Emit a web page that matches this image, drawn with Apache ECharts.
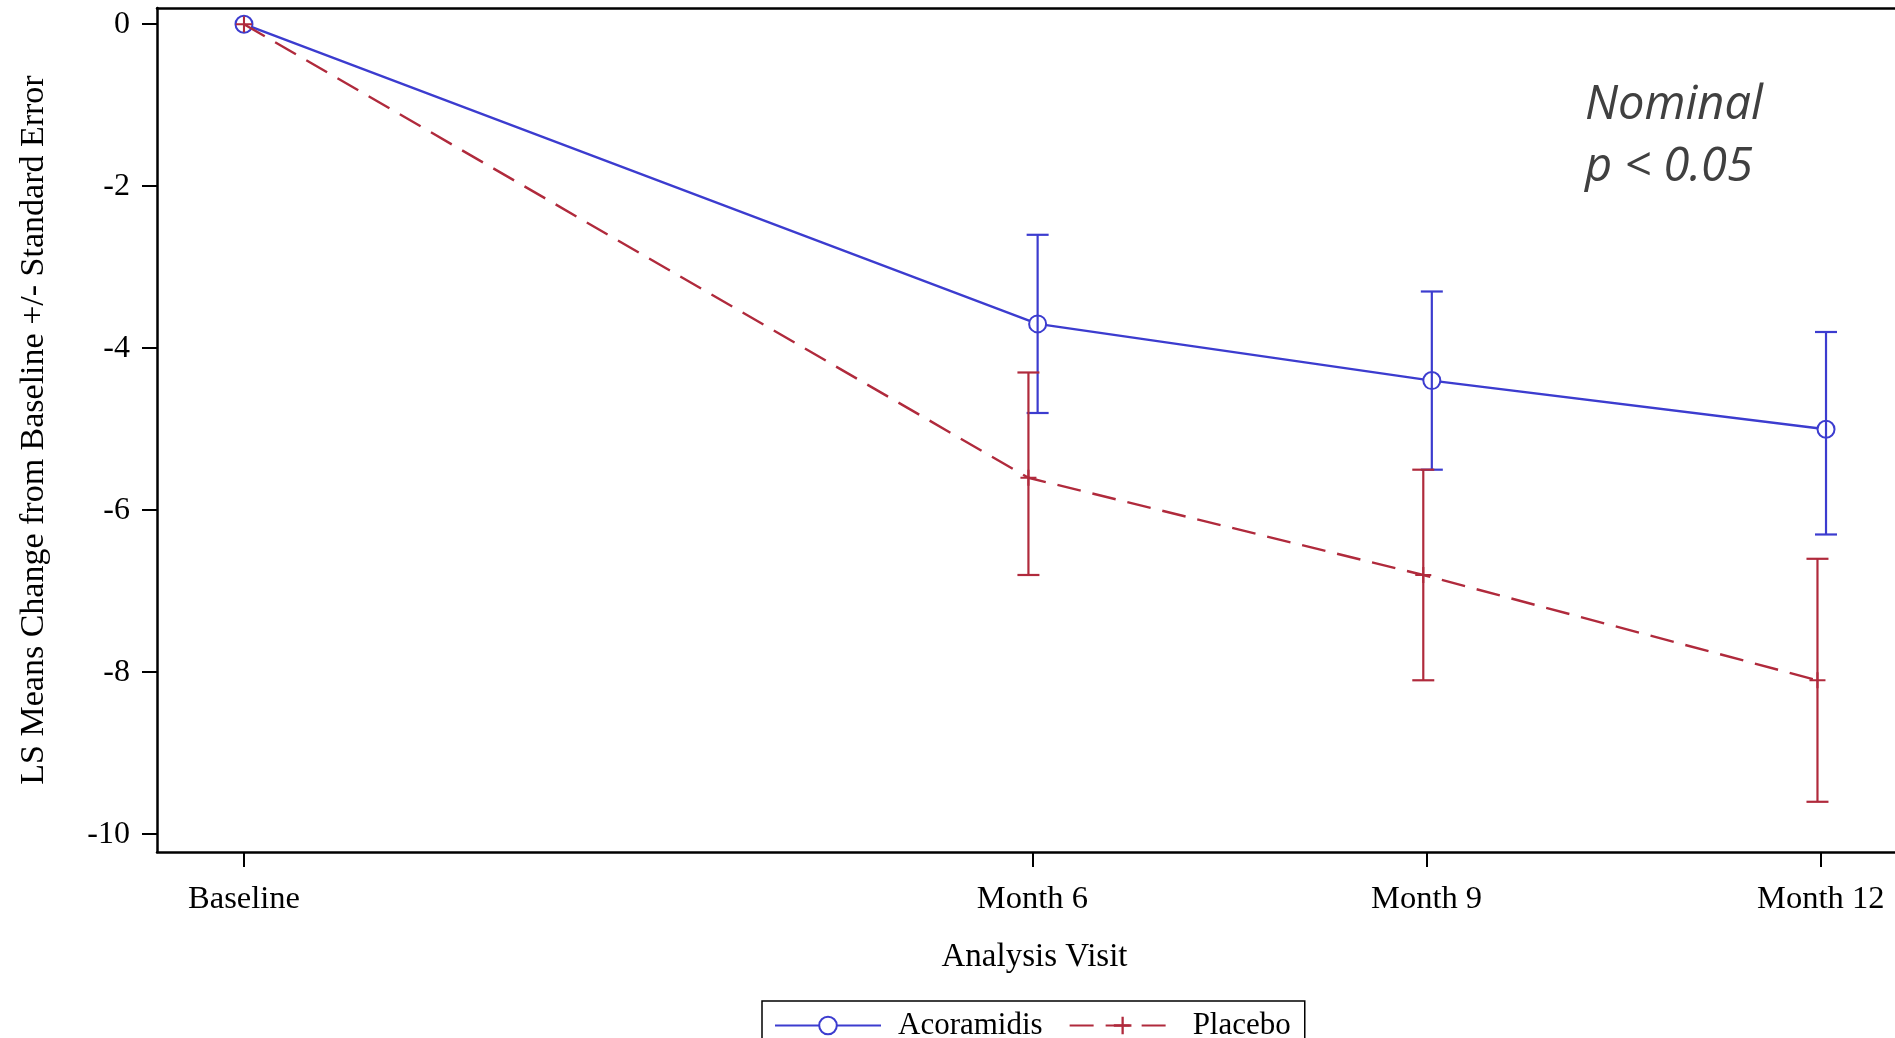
<!DOCTYPE html>
<html>
<head>
<meta charset="utf-8">
<script src="https://cdn.jsdelivr.net/npm/echarts@6/dist/echarts.min.js"></script>
<style>
html,body{margin:0;padding:0;background:#fff;}
#chart{width:1895px;height:1038px;}
</style>
</head>
<body>
<div id="chart"></div>
<script>
// ---- data ----
const visitMonths = [0, 6, 9, 12];
const tickLabels = ['Baseline', 'Month 6', 'Month 9', 'Month 12'];
const yTickValues = [0, -2, -4, -6, -8, -10];

const acoX = [0, 6.04, 9.04, 12.04];
const acoMean = [0, -3.7, -4.4, -5.0];
const acoUpper = [0, -2.6, -3.3, -3.8];
const acoLower = [0, -4.8, -5.5, -6.3];

const placeboX = [0, 5.97, 8.975, 11.975];
const placeboMean = [0, -5.6, -6.8, -8.1];
const placeboUpper = [0, -4.3, -5.5, -6.6];
const placeboLower = [0, -6.8, -8.1, -9.6];

const annotation = 'Nominal\np < 0.05';

// ---- styling ----
const BLUE = '#3c3ccf';
const RED = '#b02a3c';
const SERIF = "'Liberation Serif','Times New Roman',serif";
const PLUS = 'path://M-1,-0.13L1,-0.13L1,0.13L-1,0.13Z M-0.13,-1L0.13,-1L0.13,1L-0.13,1Z';

function pts(xs, ys) { return xs.map((x, i) => [x, ys[i]]); }
function bars(xs, lo, hi) { return xs.map((x, i) => [x, lo[i], hi[i]]); }

function errRender(color) {
  return function (params, api) {
    const x = api.value(0), lo = api.value(1), hi = api.value(2);
    if (lo === hi) return null;
    const pLo = api.coord([x, lo]);
    const pHi = api.coord([x, hi]);
    const hw = 11;
    const st = { stroke: color, lineWidth: 2.2 };
    return {
      type: 'group',
      children: [
        { type: 'line', shape: { x1: pLo[0], y1: pLo[1], x2: pHi[0], y2: pHi[1] }, style: st },
        { type: 'line', shape: { x1: pHi[0] - hw, y1: pHi[1], x2: pHi[0] + hw, y2: pHi[1] }, style: st },
        { type: 'line', shape: { x1: pLo[0] - hw, y1: pLo[1], x2: pLo[0] + hw, y2: pLo[1] }, style: st }
      ]
    };
  };
}

const axisCommon = {
  splitLine: { show: false },
  axisLine: { show: true, onZero: false, lineStyle: { color: '#000', width: 2.5 } }
};

const chart = echarts.init(document.getElementById('chart'), null, { renderer: 'canvas' });
chart.setOption({
  backgroundColor: '#fff',
  animation: false,
  title: {
    text: annotation,
    left: 1580,
    top: 70,
    textStyle: {
      fontFamily: "'Open Sans',sans-serif",
      fontStyle: 'italic',
      fontWeight: 'normal',
      fontSize: 47,
      lineHeight: 62,
      color: '#404040'
    }
  },
  grid: { left: 157, top: 8, right: 0, bottom: 186 },
  legend: {
    data: ['Acoramidis', 'Placebo'],
    left: 762,
    top: 1001,
    orient: 'horizontal',
    padding: [9, 14, 9, 12],
    itemWidth: 106,
    itemHeight: 22,
    itemGap: 26,
    borderColor: '#000',
    borderWidth: 1.5,
    selectedMode: false,
    textStyle: { fontFamily: SERIF, fontSize: 31, color: '#000', padding: [0, 0, 0, 12] }
  },
  xAxis: [
    Object.assign({}, axisCommon, {
      type: 'value',
      position: 'bottom',
      min: -0.662,
      max: 12.565,
      name: 'Analysis Visit',
      nameLocation: 'middle',
      nameGap: 89,
      nameTextStyle: { fontFamily: SERIF, fontSize: 33, color: '#000', padding: [0, 0, 0, 17] },
      axisTick: { show: true, inside: false, length: 15, lineStyle: { color: '#000', width: 2 }, customValues: visitMonths },
      axisLabel: {
        show: true, margin: 31, fontFamily: SERIF, fontSize: 32.5, color: '#000',
        customValues: visitMonths,
        formatter: function (v) { const i = visitMonths.indexOf(v); return i >= 0 ? tickLabels[i] : ''; }
      }
    }),
    Object.assign({}, axisCommon, {
      type: 'value',
      position: 'top',
      min: -0.662,
      max: 12.565,
      axisTick: { show: false },
      axisLabel: { show: false }
    })
  ],
  yAxis: Object.assign({}, axisCommon, {
    type: 'value',
    min: -10.22,
    max: 0.2,
    name: 'LS Means Change from Baseline +/- Standard Error',
    nameLocation: 'middle',
    nameGap: 106,
    nameTextStyle: { fontFamily: SERIF, fontSize: 34, color: '#000' },
    axisTick: { show: true, inside: false, length: 15, lineStyle: { color: '#000', width: 2 }, customValues: yTickValues },
    axisLabel: {
      show: true, margin: 27, fontFamily: SERIF, fontSize: 32, color: '#000',
      customValues: yTickValues
    }
  }),
  series: [
    {
      name: 'Acoramidis',
      type: 'line',
      data: pts(acoX, acoMean),
      symbol: 'emptyCircle',
      symbolSize: 17,
      showAllSymbol: true,
      color: BLUE,
      lineStyle: { color: BLUE, width: 2.4 },
      itemStyle: { color: BLUE, borderColor: BLUE, borderWidth: 2.5 },
      z: 2
    },
    {
      name: 'Placebo',
      type: 'line',
      data: pts(placeboX, placeboMean),
      symbol: PLUS,
      symbolSize: 16,
      showAllSymbol: true,
      color: RED,
      lineStyle: { color: RED, width: 2.4, type: [24, 12] },
      itemStyle: { color: RED },
      z: 3
    },
    {
      name: 'Acoramidis SE',
      type: 'custom',
      data: bars(acoX, acoLower, acoUpper),
      renderItem: errRender(BLUE),
      encode: { x: 0, y: [1, 2] },
      z: 4,
      silent: true
    },
    {
      name: 'Placebo SE',
      type: 'custom',
      data: bars(placeboX, placeboLower, placeboUpper),
      renderItem: errRender(RED),
      encode: { x: 0, y: [1, 2] },
      z: 4,
      silent: true
    }
  ]
});
</script>
</body>
</html>
